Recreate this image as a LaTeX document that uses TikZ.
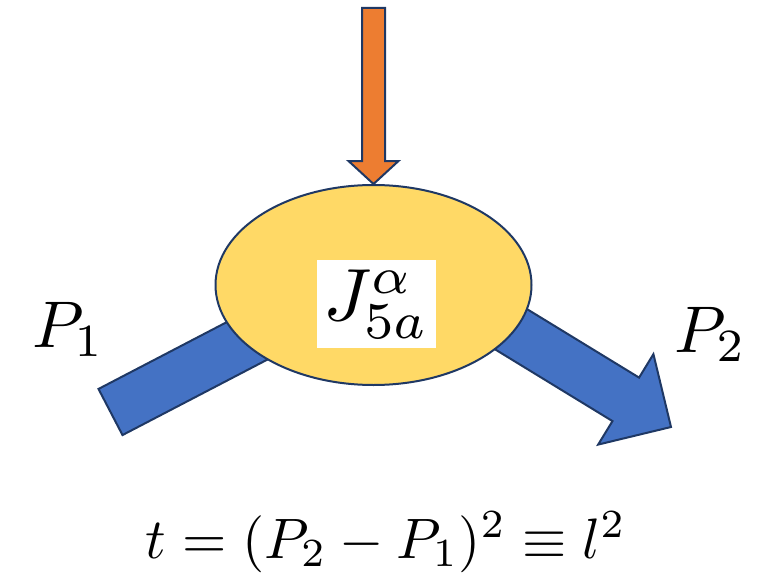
\documentclass[tikz,border=0pt]{standalone}
\usetikzlibrary{positioning, calc, shapes.geometric, backgrounds}

\definecolor{vtxyellow}{HTML}{FFD966}
\definecolor{outlinenavy}{HTML}{1F3864}
\definecolor{legblue}{HTML}{4472C4}
\definecolor{probeorange}{HTML}{ED7D31}

\begin{document}
\begin{tikzpicture}[x=1pt, y=-1pt,
    % Node styles
    vertex/.style={
        draw=outlinenavy, line width=2pt, fill=vtxyellow, ellipse,
        minimum width=316pt, minimum height=200pt, inner sep=0pt
    },
    % white box, 120 x 88 once scaled
    labelbox/.style={
        fill=white, inner sep=0pt, scale=7.4,
        minimum width=16.2pt, minimum height=11.9pt
    },
    momentum/.style={inner sep=0pt, scale=6.6},
    formula/.style={inner sep=0pt, scale=5.7},
    % Block arrow style
    blockarrow/.style={draw=outlinenavy, line width=2pt, line join=miter},
]

\useasboundingbox (0,0) rectangle (757,575);

% ===== VERTEX =====
\node[vertex] (vtx) at (373.5,285) {};
\node[labelbox] (vtx-label) at ($(vtx.center)+(3,19)$) {$J^\alpha_{5a}$};

% ===== INCOMING AND OUTGOING LEGS (behind the vertex) =====
\coordinate (p1-end) at (110.5,412);
\coordinate (p1-in) at ($(vtx.center)+(0,-10)$);
\coordinate (p2-in) at ($(vtx.center)+(57,-5)$);
\coordinate (p2-tip) at (671,427);
\coordinate (p2-base) at ($(p2-tip)!53pt!(p2-in)$);

\begin{pgfonlayer}{background}
% Left bar: P1 comes in
\draw[blockarrow, fill=legblue]
    ($(p1-end)!26pt!90:(p1-in)$) -- ($(p1-in)!26pt!-90:(p1-end)$)
    -- ($(p1-in)!26pt!90:(p1-end)$) -- ($(p1-end)!26pt!-90:(p1-in)$) -- cycle;

% Right arrow: P2 goes out
\draw[blockarrow, fill=legblue]
    ($(p2-in)!25.5pt!90:(p2-tip)$) -- ($(p2-base)!25.5pt!90:(p2-tip)$)
    -- ($(p2-base)!53pt!90:(p2-tip)$) -- (p2-tip)
    -- ($(p2-base)!53pt!-90:(p2-tip)$) -- ($(p2-base)!25.5pt!-90:(p2-tip)$)
    -- ($(p2-in)!25.5pt!-90:(p2-tip)$) -- cycle;
\end{pgfonlayer}

% ===== CURRENT INSERTION (orange arrow) =====
\coordinate (probe-top) at (373.5,8);
\coordinate (probe-base) at ($(vtx.north)!23pt!(probe-top)$);
\draw[blockarrow, fill=probeorange]
    ($(probe-top)!11.5pt!90:(vtx.north)$) -- ($(probe-base)!11.5pt!90:(vtx.north)$)
    -- ($(probe-base)!25pt!90:(vtx.north)$) -- (vtx.north)
    -- ($(probe-base)!25pt!-90:(vtx.north)$) -- ($(probe-base)!11.5pt!-90:(vtx.north)$)
    -- ($(probe-top)!11.5pt!-90:(vtx.north)$) -- cycle;

% ===== LABELS =====
\node[momentum, anchor=base west] (p1-label) at (31,347) {$P_1$};
\node[momentum, anchor=base west] (p2-label) at (673,352) {$P_2$};

% Momentum transfer
\node[formula, anchor=base] (t-def) at (386,558) {$t = (P_2 - P_1)^2 \equiv l^2$};

\end{tikzpicture}
\end{document}
